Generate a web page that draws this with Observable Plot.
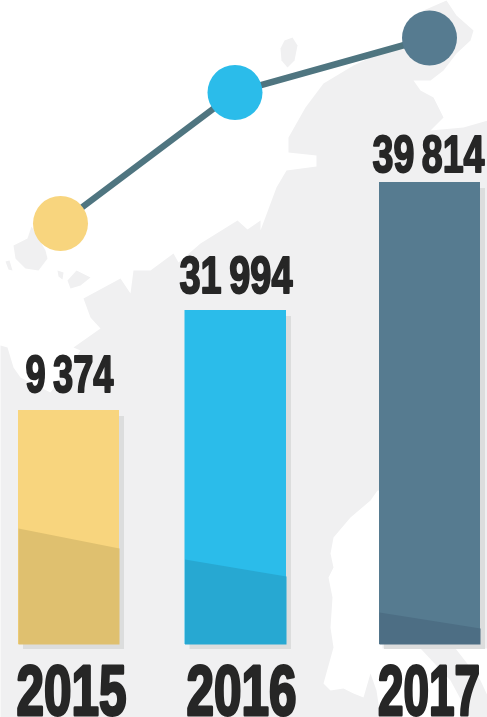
<!DOCTYPE html>
<html>
<head>
<meta charset="utf-8">
<style>html,body{margin:0;padding:0;background:#fff;overflow:hidden}svg{display:block;filter:blur(0.4px)}.val text{word-spacing:-4px}</style>
<script src="https://cdn.jsdelivr.net/npm/d3@7"></script>
<script src="https://cdn.jsdelivr.net/npm/@observablehq/plot@0.6"></script>
</head>
<body>
<div id="chart"></div>
<script>
const years = ["2015", "2016", "2017"];
const values = ["9 374", "31 994", "39 814"];
const colors = ["#f8d57e", "#2bbcea", "#567b90"];
const shades = ["#dfc06f", "#27a8d2", "#4d6e84"];
const barLeft = [18, 184.5, 379];
const barRight = [119, 286, 480];
const barTop = [410, 310, 182];
const barBase = 644;
const shadeLeft = [528, 559, 612];
const shadeRight = [548, 576, 628];
const dotX = [60, 234.5, 429];
const dotY = [223, 92, 37.5];
const valueCenter = [69, 235.5, 428];
const valueBase = [391, 292, 171];
const valueWidth = [88, 113, 112];
const yearCenter = [71, 241, 428.5];
const yearWidth = [110, 110, 102];

const mainland = [[423,10],[446,0],[456,15],[473,30],[470,40],[456,53],[443,70],[430,80],[413,80],[420,90],[433,97],[443,117],[430,130],[463,127],[487,120],[487,648],[382,648],[382,490],[377,490],[370,500],[350,517],[333,537],[330,553],[333,567],[328,577],[332,597],[330,627],[333,647],[323,683],[330,690],[343,688],[353,693],[363,697],[370,673],[376,690],[380,717],[0,717],[0,345],[7,347],[13,367],[20,377],[50,392],[80,350],[73,347],[100,328],[90,317],[83,298],[120,278],[130,293],[133,270],[150,270],[173,253],[178,262],[200,243],[237,220],[247,229],[260,220],[260,230],[276,187],[286,170],[316,166],[316,155],[288,152],[288,137],[305,107],[323,83],[353,65],[400,43]];
const southEast = [[420,648],[455,648],[480,680],[487,695],[487,717],[470,717],[450,680]];
const islandNorth = [[284,40],[292,37],[297,45],[294,60],[287,67],[281,60],[280,48]];
const islandWest = [[13,245],[27,238],[31,226],[45,250],[47,258],[38,270],[25,268],[15,258]];
const islandMid = [[67,280],[76,270],[90,277],[80,285],[70,288]];
const islandSmall = [[57,270],[63,272],[62,279],[58,276]];
const islandTiny = [[5,261],[9,260],[12,270],[8,269]];

const landShapes = [mainland, southEast, islandNorth, islandWest, islandMid, islandSmall, islandTiny]
  .flatMap((s, k) => s.map(([x, y]) => ({x, y, k})));
const bars = years.map((year, i) => ({year, i, x1: barLeft[i], x2: barRight[i], top: barTop[i]}));
const shadeShapes = years.flatMap((year, i) => [
  {i, x: barLeft[i], y: shadeLeft[i]},
  {i, x: barRight[i], y: shadeRight[i]},
  {i, x: barRight[i], y: barBase},
  {i, x: barLeft[i], y: barBase}
]);
const dots = years.map((year, i) => ({x: dotX[i], y: dotY[i], c: colors[i]}));

const font = "'Liberation Sans Narrow','Liberation Sans',sans-serif";
const plot = Plot.plot({
  width: 487, height: 717,
  margin: 0,
  style: {background: "#fff"},
  x: {domain: [0, 487], range: [0, 487], axis: null},
  y: {domain: [0, 717], range: [0, 717], axis: null},
  marks: [
    Plot.line(landShapes, {x: "x", y: "y", z: "k", curve: "linear-closed", fill: "#f0f0f1", stroke: "none"}),
    Plot.rect(bars, {x1: d => d.x1 + 5, x2: d => d.x2 + 5, y1: d => d.top + 6, y2: barBase + 5, fill: "#dcdddd"}),
    Plot.rect(bars, {x1: "x1", x2: "x2", y1: "top", y2: barBase, fill: d => colors[d.i]}),
    Plot.line(shadeShapes, {x: "x", y: "y", z: "i", curve: "linear-closed", stroke: "none", fill: d => shades[d.i]}),
    Plot.line(dots, {x: "x", y: "y", stroke: "#4f7580", strokeWidth: 6.5}),
    Plot.dot(dots, {x: "x", y: "y", r: 27.5, fill: d => d.c, stroke: "none"}),
    Plot.text(values, {x: (d, i) => valueCenter[i], y: (d, i) => valueBase[i], text: d => d, className: "val",
      lineAnchor: "bottom", textAnchor: "middle", fontFamily: font, fontWeight: 700, fontSize: 52,
      fill: "#262626", stroke: "#262626", strokeWidth: 2}),
    Plot.text(years, {x: (d, i) => yearCenter[i], y: 714, text: d => d, className: "yr",
      lineAnchor: "bottom", textAnchor: "middle", fontFamily: font, fontWeight: 700, fontSize: 70,
      fill: "#262626", stroke: "#262626", strokeWidth: 3})
  ]
});
document.getElementById("chart").append(plot);
d3.select(plot).selectAll("g.val text").each(function(d, i) {
  this.setAttribute("textLength", valueWidth[i]);
  this.setAttribute("lengthAdjust", "spacingAndGlyphs");
});
d3.select(plot).selectAll("g.yr text").each(function(d, i) {
  this.setAttribute("textLength", yearWidth[i]);
  this.setAttribute("lengthAdjust", "spacingAndGlyphs");
});
</script>
</body>
</html>
